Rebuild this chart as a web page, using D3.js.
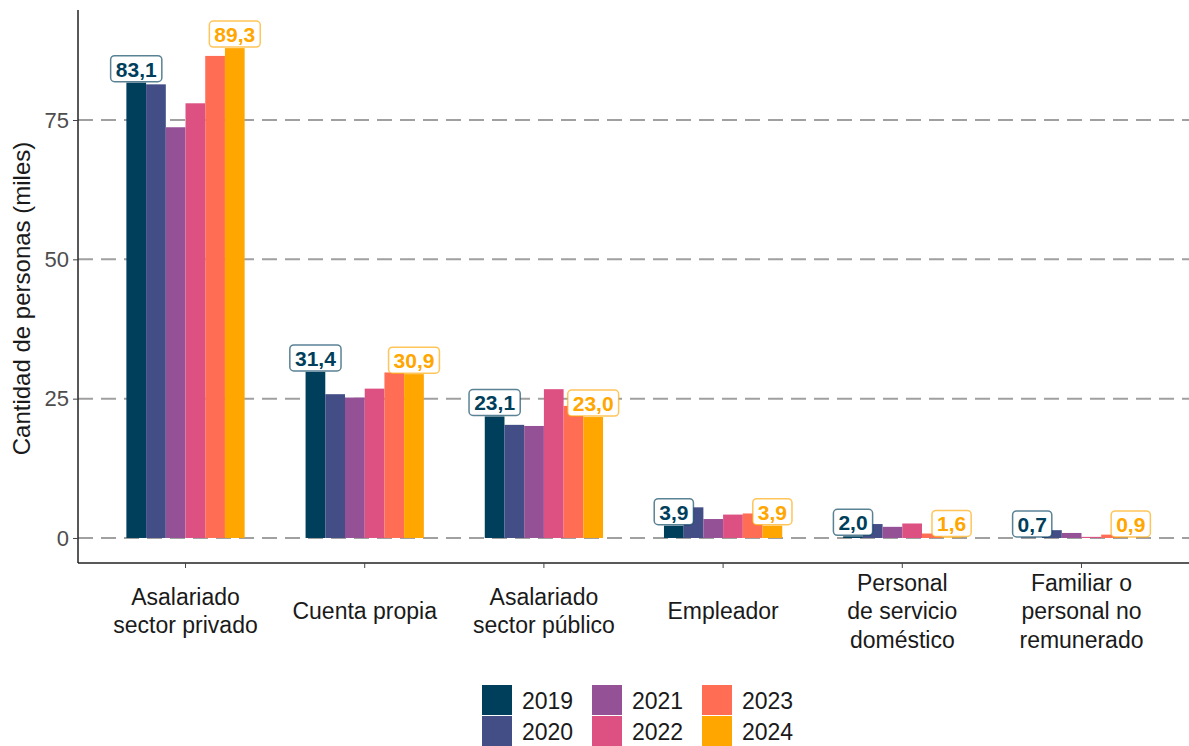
<!DOCTYPE html>
<html>
<head>
<meta charset="utf-8">
<script src="https://cdn.jsdelivr.net/npm/d3@7"></script>
<style>
  body { margin: 0; background: #fff; }
  text { font-family: "Liberation Sans", Arial, sans-serif; }
</style>
</head>
<body>
<div id="chart"></div>
<script>
// categories (x axis), one line per array entry
var categories = [
  ["Asalariado", "sector privado"],
  ["Cuenta propia"],
  ["Asalariado", "sector público"],
  ["Empleador"],
  ["Personal", "de servicio", "doméstico"],
  ["Familiar o", "personal no", "remunerado"]
];
var years = ["2019", "2020", "2021", "2022", "2023", "2024"];
var colors = ["#003f5c", "#444e86", "#955196", "#dd5182", "#ff6e54", "#ffa600"];

// bar heights per year (thousands)
var v2019 = [81.7, 29.8, 21.8, 2.2, 0.3, 0.0];
var v2020 = [81.4, 25.8, 20.3, 5.5, 2.5, 1.4];
var v2021 = [73.7, 25.2, 20.1, 3.4, 2.0, 0.9];
var v2022 = [78.0, 26.8, 26.7, 4.2, 2.6, 0.2];
var v2023 = [86.5, 29.7, 23.7, 4.4, 0.8, 0.6];
var v2024 = [87.9, 29.4, 21.7, 2.2, 0.1, 0.0];
var series = [v2019, v2020, v2021, v2022, v2023, v2024];

// printed labels on the first and last year
var labels2019 = ["83,1", "31,4", "23,1", "3,9", "2,0", "0,7"];
var labels2024 = ["89,3", "30,9", "23,0", "3,9", "1,6", "0,9"];
var yTicks = [0, 25, 50, 75];

var W = 1189, H = 746;
var margin = { top: 10, right: 0, bottom: 183, left: 78 };

var svg = d3.select("#chart").append("svg")
  .attr("width", W).attr("height", H);

var x = d3.scalePoint()
  .domain(d3.range(categories.length))
  .range([margin.left, W - margin.right])
  .padding(0.6);

var y = d3.scaleLinear()
  .domain([-4.49, 94.74])
  .range([H - margin.bottom, margin.top]);

var groupW = x.step() * 0.66;
var xb = d3.scaleBand().domain(years).range([-groupW / 2, groupW / 2]);

// gridlines
svg.append("g").selectAll("line").data(yTicks).join("line")
  .attr("x1", margin.left).attr("x2", W - margin.right)
  .attr("y1", d => y(d)).attr("y2", d => y(d))
  .attr("stroke", "#a0a0a0").attr("stroke-width", 2)
  .attr("stroke-dasharray", "15,8");

// bars
series.forEach(function(vals, i) {
  svg.append("g").selectAll("rect").data(vals).join("rect")
    .attr("x", (d, j) => x(j) + xb(years[i]))
    .attr("width", xb.bandwidth())
    .attr("y", d => y(Math.max(d, 0)))
    .attr("height", d => y(0) - y(Math.max(d, 0)))
    .attr("fill", colors[i]);
});

// axes
var yAxis = svg.append("g")
  .attr("transform", `translate(${margin.left},0)`)
  .call(d3.axisLeft(y).tickValues(yTicks).tickSize(5).tickPadding(4));
yAxis.select(".domain").attr("stroke", "#222").attr("stroke-width", 1.5)
  .attr("d", `M0,${margin.top}V${H - margin.bottom}`);
yAxis.selectAll(".tick line").attr("stroke", "#444");
yAxis.selectAll(".tick text").attr("fill", "#4d4d4d").style("font-size", "22px");

svg.append("line")
  .attr("x1", margin.left).attr("x2", W - margin.right)
  .attr("y1", H - margin.bottom).attr("y2", H - margin.bottom)
  .attr("stroke", "#222").attr("stroke-width", 1.5);

var xt = svg.append("g").selectAll("g").data(categories).join("g")
  .attr("transform", (d, j) => `translate(${x(j)},${H - margin.bottom})`);
xt.append("line").attr("y1", 0).attr("y2", 5).attr("stroke", "#444");
xt.each(function(lines) {
  var g = d3.select(this);
  var lh = 28.5;
  var start = 48 - (lines.length - 1) * lh / 2;
  lines.forEach(function(t, k) {
    g.append("text")
      .attr("y", start + k * lh + 8)
      .attr("text-anchor", "middle")
      .attr("fill", "#1a1a1a")
      .style("font-size", "23px")
      .text(t);
  });
});

// y title
svg.append("text")
  .attr("transform", `translate(30,${(margin.top + H - margin.bottom) / 2 + 12}) rotate(-90)`)
  .attr("text-anchor", "middle")
  .attr("fill", "#1a1a1a")
  .style("font-size", "24px")
  .text("Cantidad de personas (miles)");

// value labels (box bottom sits on bar top)
function addLabels(vals, texts, yi) {
  var g = svg.append("g").selectAll("g").data(vals).join("g")
    .attr("transform", (d, j) => `translate(${x(j) + xb(years[yi]) + xb.bandwidth() / 2},${y(Math.max(d, 0))})`);
  g.each(function(d, j) {
    var gg = d3.select(this);
    var t = gg.append("text")
      .attr("text-anchor", "middle")
      .attr("y", -6)
      .attr("fill", colors[yi])
      .style("font-size", "21px")
      .style("font-weight", "bold")
      .text(texts[j]);
    var bb = t.node().getBBox();
    gg.insert("rect", "text")
      .attr("x", -bb.width / 2 - 5).attr("y", -27)
      .attr("width", bb.width + 10).attr("height", 26)
      .attr("rx", 4)
      .attr("fill", "#fff")
      .attr("stroke", colors[yi]).attr("stroke-opacity", 0.65)
      .attr("stroke-width", 1.5);
  });
}
addLabels(v2019, labels2019, 0);
addLabels(v2024, labels2024, 5);

// legend, 3 columns x 2 rows
var leg = svg.append("g").selectAll("g").data(years).join("g")
  .attr("transform", (d, i) => `translate(${482 + Math.floor(i / 2) * 110},${685 + (i % 2) * 31})`);
leg.append("rect").attr("width", 30).attr("height", 30)
  .attr("fill", (d, i) => colors[i]);
leg.append("text").attr("x", 40).attr("y", 24)
  .attr("fill", "#1a1a1a").style("font-size", "23px")
  .text(d => d);
</script>
</body>
</html>
